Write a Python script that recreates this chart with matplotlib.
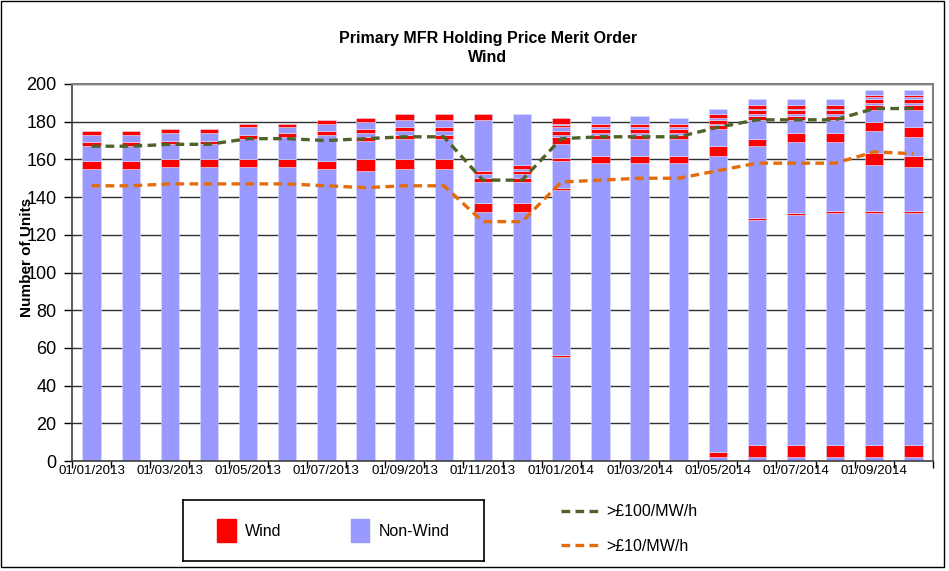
import numpy as np
import pandas as pd
import matplotlib
matplotlib.use('Agg')
import matplotlib.pyplot as plt
from matplotlib import font_manager
from matplotlib.patches import Patch, Rectangle
from matplotlib.lines import Line2D

plt.rcParams['font.family'] = ['Liberation Sans', 'DejaVu Sans']

# narrow face for the date labels if it is installed
try:
    font_manager.findfont('Liberation Sans Narrow', fallback_to_default=False)
    narrow = 'Liberation Sans Narrow'
    date_size = 11
except ValueError:
    narrow = 'Liberation Sans'
    date_size = 9.6

# monthly categories
months = pd.date_range('2013-01-01', periods=22, freq='MS')
month_labels = [d.strftime('%d/%m/%Y') for d in months]

# stacked unit counts per month, bottom to top, alternating non-wind / wind
segments = [
    [155, 4, 8, 2, 4, 2],
    [155, 4, 8, 2, 4, 2],
    [156, 4, 8, 2, 4, 2],
    [156, 4, 8, 2, 4, 2],
    [156, 4, 11, 2, 4, 2],
    [156, 4, 12, 2, 3, 2],
    [155, 4, 14, 2, 4, 2],
    [154, 6, 10, 2, 2, 2, 4, 2],
    [155, 5, 11, 2, 2, 2, 4, 3],
    [155, 5, 11, 2, 2, 2, 4, 3],
    [132, 5, 11, 2, 2, 2, 27, 3],
    [132, 5, 11, 2, 2, 2, 1, 2, 27],
    [55, 1, 88, 1, 14, 2, 7, 4, 1, 2, 2, 1, 1, 3],
    [158, 4, 9, 2, 1, 2, 1, 2, 4],
    [158, 4, 9, 2, 1, 2, 1, 2, 4],
    [158, 4, 9, 2, 1, 2, 1, 2, 3],
    [2, 3, 157, 5, 9, 2, 1, 2, 1, 2, 3],
    [2, 6.5, 119.5, 1, 38, 4, 10, 2, 1, 2, 1, 2, 3],
    [2, 6.5, 122, 1, 37.5, 5, 7, 2, 1, 2, 1, 2, 3],
    [2, 6.5, 123, 1, 36.5, 5, 7, 2, 1, 2, 1, 2, 3],
    [2, 6.5, 123, 1, 24.5, 6.5, 11.5, 5, 6, 3, 1, 2, 1, 1, 3],
    [2, 6.5, 123, 1, 23.5, 6, 10, 5, 9, 3, 1, 2, 1, 1, 3],
]

over_100 = [167, 167, 168, 168, 171, 171, 170, 171, 172, 172, 149, 149,
            171, 172, 172, 172, 177, 181, 181, 181, 187, 187]
over_10 = [146, 146, 147, 147, 147, 147, 146, 145, 146, 146, 127, 127,
           148, 149, 150, 150, 154, 158, 158, 158, 164, 163]

PURPLE = '#9999FF'
RED = '#FF0000'
GREEN = '#4F6228'
ORANGE = '#E46C0A'

fig = plt.figure(figsize=(9.49, 5.71), dpi=100)
ax = fig.add_axes([72 / 949, 110 / 571, 861 / 949, 377 / 571])

x = np.arange(len(months))
for i, segs in enumerate(segments):
    bottoms = np.concatenate([[0], np.cumsum(segs)[:-1]])
    for j, (b, h) in enumerate(zip(bottoms, segs)):
        ax.bar(x[i], h, bottom=b, width=0.47, color=RED if j % 2 else PURPLE,
               edgecolor='#DCDCFF', linewidth=0.4, zorder=2)

ax.plot(x, over_100, color=GREEN, lw=2.4, dashes=(2.6, 1.6), zorder=3)
ax.plot(x, over_10, color=ORANGE, lw=2.4, dashes=(2.6, 1.6), zorder=3)

ax.set_xlim(-0.5, len(months) - 0.5)
ax.set_ylim(0, 200)
ax.set_yticks(np.arange(0, 201, 20))
ax.yaxis.grid(True, color='#303030', lw=1.0, zorder=0)
ax.set_axisbelow(True)
ax.tick_params(axis='y', labelsize=13, length=6, width=1, direction='out', pad=5)

ax.set_xticks(x[::2])
ax.set_xticklabels(month_labels[::2], fontsize=date_size, family=narrow)
ax.set_xticks(np.arange(-0.5, len(months)), minor=True)
ax.tick_params(axis='x', which='major', length=0, pad=3)
ax.tick_params(axis='x', which='minor', length=5, width=1, direction='out')

for side in ['top', 'right']:
    ax.spines[side].set_color('#808080')
    ax.spines[side].set_linewidth(1.5)
for side in ['left', 'bottom']:
    ax.spines[side].set_color('#404040')
    ax.spines[side].set_linewidth(1.2)

fig.text(488 / 949, 1 - 48 / 571, 'Primary MFR Holding Price Merit Order\nWind',
         ha='center', va='center', fontsize=11.5, fontweight='bold', linespacing=1.3)
# the source chart draws this label over the tick numbers
fig.text(27 / 949, 1 - 257 / 571, 'Number of Units', rotation=90, ha='center',
         va='center', fontsize=11, fontweight='bold')

# bar legend in a box
lax = fig.add_axes([183 / 949, 10 / 571, 301 / 949, 61 / 571])
lax.set_xticks([])
lax.set_yticks([])
for s in lax.spines.values():
    s.set_linewidth(1.2)
    s.set_color('black')
lax.legend([Patch(color=RED), Patch(color=PURPLE)], ['Wind', 'Non-Wind'],
           loc='center', bbox_to_anchor=(0.5, 0.5), ncol=2, frameon=False,
           fontsize=11.5, handlelength=1.15, handleheight=1.9,
           handletextpad=0.6, columnspacing=4.3)

# line legend
fig.legend([Line2D([], [], color=GREEN, lw=2.4, dashes=(2.6, 1.6)),
            Line2D([], [], color=ORANGE, lw=2.4, dashes=(2.6, 1.6))],
           ['>£100/MW/h', '>£10/MW/h'], loc='upper left',
           bbox_to_anchor=(547 / 949, 1 - 490 / 571), frameon=False,
           fontsize=11.5, handlelength=2.5, handletextpad=0.3, labelspacing=1.2)

fig.patches.append(Rectangle((1 / 949, 4 / 571), 943 / 949, 566 / 571,
                             transform=fig.transFigure, fill=False,
                             edgecolor='black', lw=1.0))

fig.savefig('out.png', dpi=100)
